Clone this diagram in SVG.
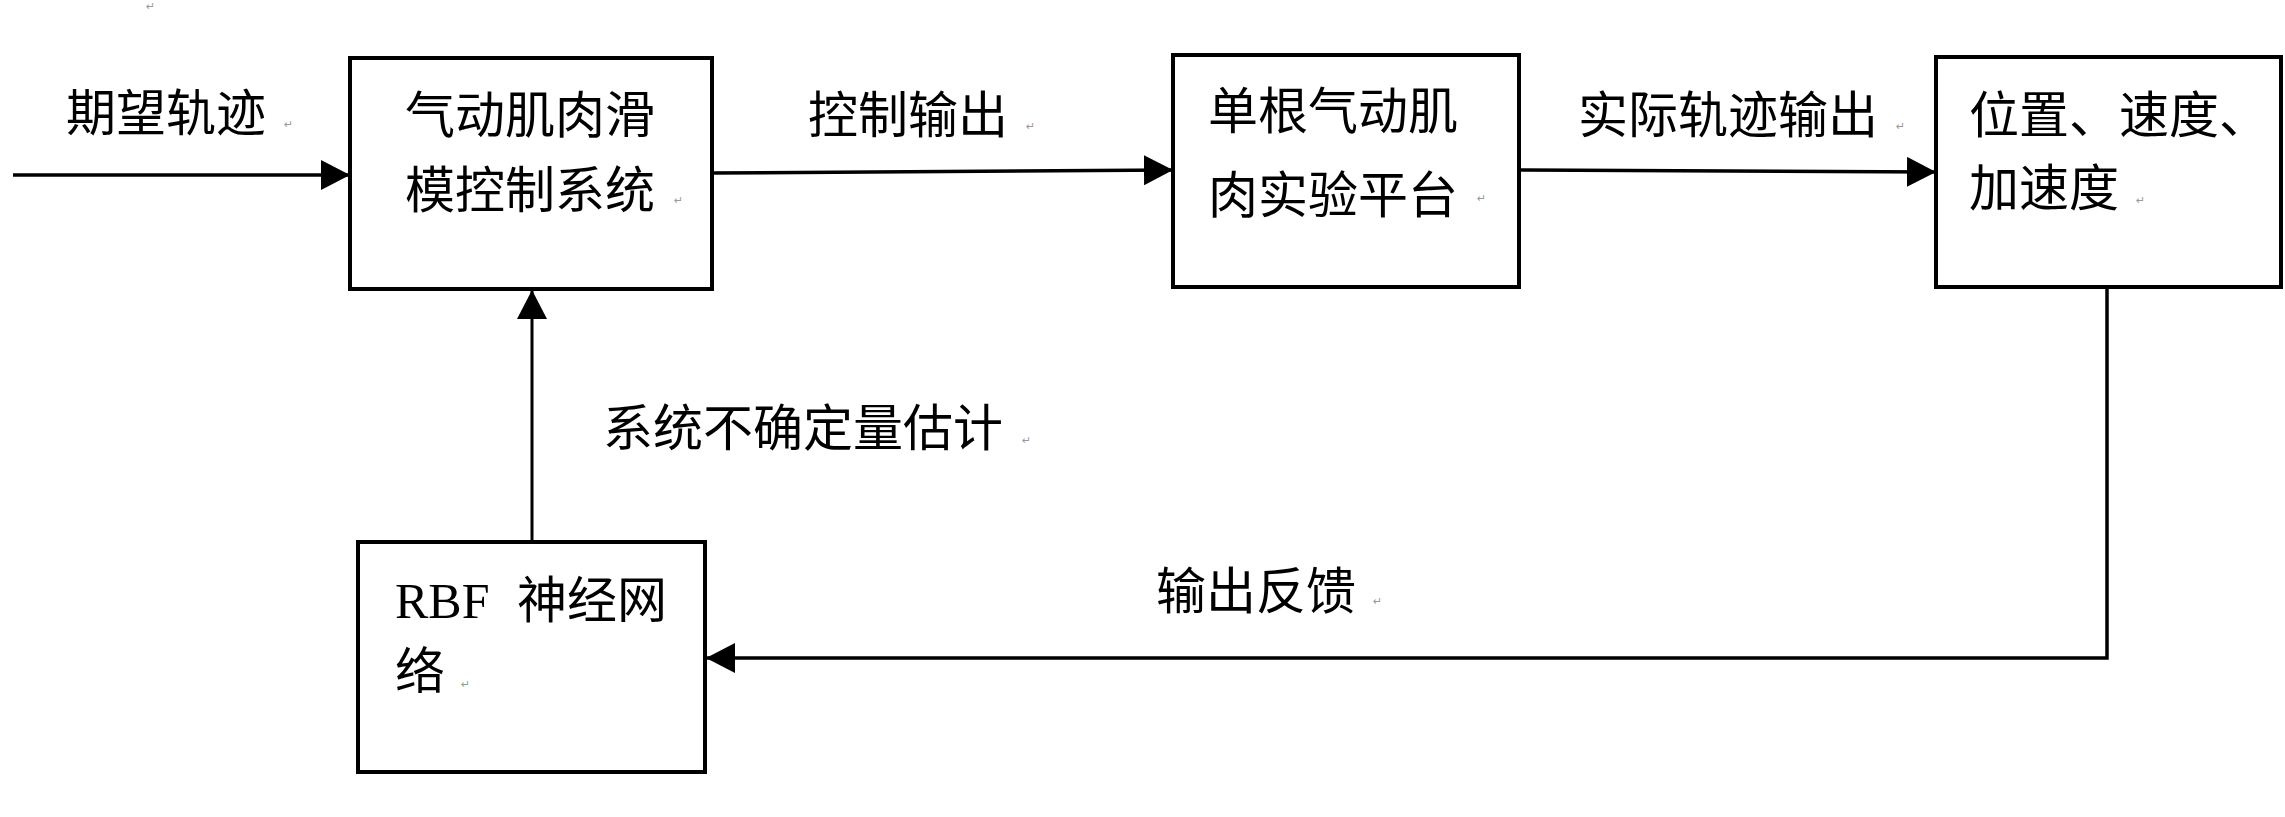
<svg xmlns="http://www.w3.org/2000/svg" width="2285" height="817" viewBox="0 0 2285 817">
<style>
.box{fill:#fff;stroke:#000;stroke-width:4}
.t{font-family:"Noto Sans CJK SC","Noto Sans CJK TC",sans-serif;font-size:50px;fill:#000}
.r{font-family:"Liberation Serif",serif;font-size:50px;fill:#000}
.pm{font-family:"DejaVu Sans",sans-serif;font-size:11px;fill:#999}
.c{fill:none;stroke:#000;stroke-width:3.5}
</style>
<defs>
<marker id="ah" markerUnits="userSpaceOnUse" markerWidth="32" markerHeight="32" refX="29" refY="15" orient="auto" viewBox="0 0 32 32">
<path d="M0,0 L29,15 L0,30 z" fill="#000"/>
</marker>
</defs>
<rect width="2285" height="817" fill="#fff"/>
<text class="pm" x="146" y="10">↵</text>
<g id="connectors">
<line class="c" x1="13" y1="175" x2="350" y2="175" marker-end="url(#ah)"/>
<line class="c" x1="712" y1="173" x2="1173" y2="170" marker-end="url(#ah)"/>
<line class="c" x1="1519" y1="170" x2="1936" y2="172" marker-end="url(#ah)"/>
<polyline class="c" points="2107,287 2107,658 706,658" marker-end="url(#ah)"/>
<line class="c" x1="532" y1="542" x2="532" y2="290" marker-end="url(#ah)" style="stroke-width:3"/>
</g>
<g id="label-desired">
<text class="t" x="66" y="131">期望轨迹</text>
<text class="pm" x="284" y="128">↵</text>
</g>
<g id="label-control-output">
<text class="t" x="808" y="133">控制输出</text>
<text class="pm" x="1026" y="130">↵</text>
</g>
<g id="label-actual-output">
<text class="t" x="1578" y="133">实际轨迹输出</text>
<text class="pm" x="1896" y="130">↵</text>
</g>
<g id="label-uncertainty">
<text class="t" x="603" y="446">系统不确定量估计</text>
<text class="pm" x="1022" y="444">↵</text>
</g>
<g id="label-feedback">
<text class="t" x="1156" y="609">输出反馈</text>
<text class="pm" x="1373" y="605">↵</text>
</g>
<g id="node-smc">
<rect class="box" x="350" y="58" width="362" height="231"/>
<text class="t" x="405" y="133">气动肌肉滑</text>
<text class="t" x="405" y="208">模控制系统</text>
<text class="pm" x="674" y="204">↵</text>
</g>
<g id="node-platform">
<rect class="box" x="1173" y="55" width="346" height="232"/>
<text class="t" x="1208" y="129">单根气动肌</text>
<text class="t" x="1208" y="213">肉实验平台</text>
<text class="pm" x="1477" y="202">↵</text>
</g>
<g id="node-state">
<rect class="box" x="1936" y="57" width="345" height="230"/>
<text class="t" x="1969" y="133">位置、速度、</text>
<text class="t" x="1969" y="206">加速度</text>
<text class="pm" x="2136" y="204">↵</text>
</g>
<g id="node-rbf">
<rect class="box" x="358" y="542" width="347" height="230"/>
<text x="395" y="618"><tspan class="r">RBF</tspan><tspan class="t" x="517">神经网</tspan></text>
<text class="t" x="395" y="689">络</text>
<text class="pm" x="461" y="688">↵</text>
</g>
</svg>
